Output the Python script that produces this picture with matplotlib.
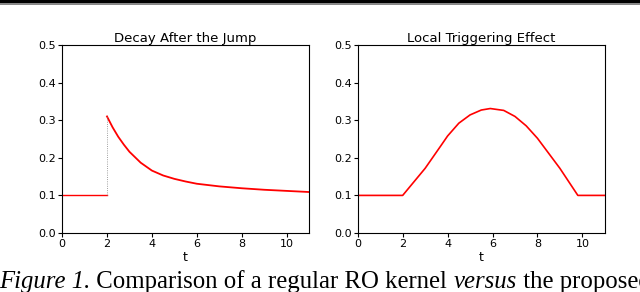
import matplotlib
matplotlib.use("Agg")
import matplotlib.pyplot as plt
from matplotlib.patches import Rectangle

# left panel: decay after the jump
t_base = [0, 2]
y_base = [0.1, 0.1]
t_decay = [2.0, 2.25, 2.5, 2.75, 3.0, 3.5, 4.0, 4.5, 5.0, 5.5, 6.0, 7.0, 8.0, 9.0, 10.0, 11.0]
y_decay = [0.31, 0.281, 0.256, 0.235, 0.216, 0.187, 0.166, 0.153, 0.144, 0.137, 0.131, 0.124, 0.119, 0.115, 0.112, 0.109]

# right panel: local triggering effect
t_trig = [0, 2.0, 3.0, 3.7, 4.0, 4.5, 5.0, 5.5, 5.9, 6.5, 7.0, 7.5, 8.0, 8.5, 9.0, 9.8, 11.0]
y_trig = [0.1, 0.1, 0.172, 0.232, 0.258, 0.292, 0.314, 0.327, 0.331, 0.326, 0.31, 0.285, 0.252, 0.212, 0.172, 0.1, 0.1]

titles = ["Decay After the Jump", "Local Triggering Effect"]
x_ticks = [0, 2, 4, 6, 8, 10]
y_ticks = [0.0, 0.1, 0.2, 0.3, 0.4, 0.5]

fig = plt.figure(figsize=(6.4, 2.92), dpi=100)
ax1 = fig.add_axes([0.097, 0.202, 0.386, 0.644])
ax2 = fig.add_axes([0.559, 0.202, 0.386, 0.644])

ax1.plot(t_base, y_base, color="red", lw=1)
ax1.plot(t_decay, y_decay, color="red", lw=1.3)
ax1.plot([2, 2], [0.1, 0.31], color="gray", lw=0.6, ls=":")
ax2.plot(t_trig, y_trig, color="red", lw=1.2)

for ax, ttl in zip([ax1, ax2], titles):
    ax.set_xlim(0, 11)
    ax.set_ylim(0, 0.5)
    ax.set_xticks(x_ticks)
    ax.set_yticks(y_ticks)
    ax.set_yticklabels(["%.1f" % v for v in y_ticks])
    ax.tick_params(labelsize=8, length=3, width=0.8, pad=1.5)
    ax.set_xlabel("t", fontsize=9, labelpad=1)
    ax.set_title(ttl, fontsize=9.5, pad=2)

# page decoration: black rule at top and caption below
fig.add_artist(Rectangle((0, 1 - 3 / 292), 1, 3 / 292, transform=fig.transFigure,
                         color="black", lw=0))
fig.add_artist(Rectangle((0, 1 - 5 / 292), 1, 2 / 292, transform=fig.transFigure,
                         color="#888888", lw=0))

parts = [("Figure 1.", "italic"), (" Comparison of a regular RO kernel ", "normal"),
         ("versus", "italic"), (" the proposed", "normal")]
fig.canvas.draw()
r = fig.canvas.get_renderer()
x = -1
for s, st in parts:
    txt = fig.text(x / 640, 1 - 288 / 292, s, fontsize=17.8, family="Liberation Serif",
                   style=st, ha="left", va="baseline")
    bb = txt.get_window_extent(renderer=r)
    x = bb.x1

fig.savefig("out.png", dpi=100)
